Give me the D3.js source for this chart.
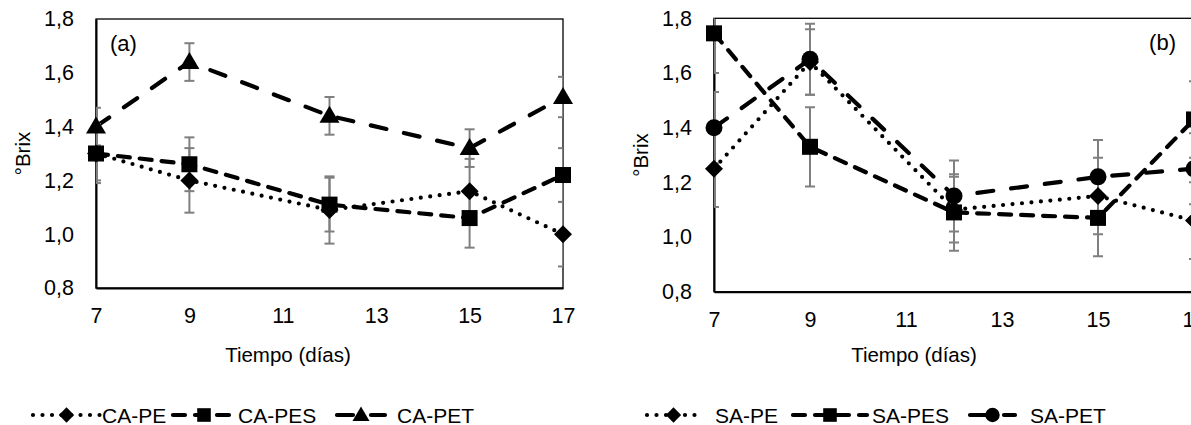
<!DOCTYPE html>
<html lang="es">
<head>
<meta charset="UTF-8">
<script src="https://d3js.org/d3.v7.min.js"></script>
<title>°Brix</title>
<style>
    body { margin: 0; background: #fff; }
    svg { display: block; font-family: "Liberation Sans", Arial, sans-serif; }
    .tick text { font-size: 21.5px; fill: #000; }
</style>
</head>
<body>
<svg id="chart" width="1191" height="425"></svg>
<script>
    // data
    const days = [7, 9, 12, 15, 17];
    const xTicks = [7, 9, 11, 13, 15, 17];
    const yTicks = [0.8, 1.0, 1.2, 1.4, 1.6, 1.8];

    const caPE = [1.30, 1.20, 1.09, 1.16, 1.00];
    const caPEerr = [0.11, 0.12, 0.125, 0.12, 0.12];
    const caPES = [1.30, 1.26, 1.11, 1.06, 1.22];
    const caPESerr = [0.10, 0.10, 0.10, 0.11, 0.10];
    const caPET = [1.40, 1.64, 1.44, 1.32, 1.51];
    const caPETerr = [0.07, 0.07, 0.07, 0.07, 0.075];

    const saPE = [1.25, 1.64, 1.10, 1.15, 1.06];
    const saPEerr = [0.14, 0.12, 0.12, 0.14, 0.14];
    const saPES = [1.745, 1.33, 1.09, 1.07, 1.43];
    const saPESerr = [0.145, 0.145, 0.14, 0.14, 0.14];
    const saPET = [1.40, 1.65, 1.15, 1.22, 1.25];
    const saPETerr = [0.13, 0.13, 0.13, 0.135, 0.13];

    const locale = d3.formatLocale({decimal: ",", thousands: ".", grouping: [3], currency: ["", ""]});
    const fmt = locale.format(".1f");

    // dash patterns per series kind
    const dashPE = "0,9.5";
    const dashPES = "12,10";
    const dashPET = "16,18";

    const svg = d3.select("#chart");

    const drawMarker = (g, type, x, y, k = 1) => {
        if (type === "square") {
            g.append("rect").attr("x", x - 8 * k).attr("y", y - 8 * k).attr("width", 16 * k).attr("height", 16 * k).attr("fill", "#000");
        } else if (type === "diamond") {
            g.append("path").attr("d", `M${x},${y - 9 * k}L${x + 9 * k},${y}L${x},${y + 9 * k}L${x - 9 * k},${y}Z`).attr("fill", "#000");
        } else if (type === "triangle") {
            g.append("path").attr("d", `M${x},${y - 10 * k}L${x + 10 * k},${y + 7 * k}L${x - 10 * k},${y + 7 * k}Z`).attr("fill", "#000");
        } else if (type === "circle") {
            g.append("circle").attr("cx", x).attr("cy", y).attr("r", 8.5 * k).attr("fill", "#000");
        }
    };

    const drawPanel = (opts) => {
        const x = d3.scaleLinear().domain([7, 17]).range([opts.left, opts.right]);
        const y = d3.scaleLinear().domain([0.8, 1.8]).range([opts.bottom, opts.top]);
        const g = svg.append("g");

        const clipId = "clip-" + opts.id;
        g.append("clipPath").attr("id", clipId)
            .append("rect")
            .attr("x", opts.left).attr("y", opts.top)
            .attr("width", opts.right - opts.left).attr("height", opts.bottom - opts.top);

        // plot border
        g.append("rect")
            .attr("x", opts.left).attr("y", opts.top)
            .attr("width", opts.right - opts.left).attr("height", opts.bottom - opts.top)
            .attr("fill", "none").attr("stroke", "#000").attr("stroke-width", 1.3);

        // axes
        g.append("g").attr("transform", `translate(${opts.left},0)`)
            .call(d3.axisLeft(y).tickValues(yTicks).tickFormat(fmt).tickSize(0).tickPadding(22))
            .call(a => a.select(".domain").attr("stroke-width", 2));
        g.append("g").attr("transform", `translate(0,${opts.bottom})`)
            .call(d3.axisBottom(x).tickValues(xTicks).tickFormat(d3.format("d")).tickSize(0).tickPadding(20))
            .call(a => a.select(".domain").attr("stroke-width", 2));
        g.selectAll(".tick text").style("font-family", "Liberation Sans, Arial, sans-serif");

        const line = d3.line().x(d => x(d[0])).y(d => y(d[1]));

        opts.series.forEach(s => {
            const pts = days.map((d, i) => [d, s.values[i]]);
            g.append("path")
                .attr("d", line(pts))
                .attr("fill", "none").attr("stroke", "#000")
                .attr("stroke-width", 4.2)
                .attr("stroke-linecap", "round").attr("stroke-linejoin", "round")
                .attr("stroke-dasharray", s.dash);
        });

        // error bars
        const eb = g.append("g").attr("clip-path", `url(#${clipId})`)
            .attr("stroke", "#7f7f7f").attr("stroke-width", 2);
        opts.series.forEach(s => {
            days.forEach((d, i) => {
                const cx = x(d), hi = y(s.values[i] + s.err[i]), lo = y(s.values[i] - s.err[i]);
                eb.append("line").attr("x1", cx).attr("x2", cx).attr("y1", hi).attr("y2", lo);
                eb.append("line").attr("x1", cx - 5).attr("x2", cx + 5).attr("y1", hi).attr("y2", hi);
                eb.append("line").attr("x1", cx - 5).attr("x2", cx + 5).attr("y1", lo).attr("y2", lo);
            });
        });

        opts.series.forEach(s => {
            days.forEach((d, i) => drawMarker(g, s.marker, x(d), y(s.values[i])));
        });

        // panel tag
        g.append("text").attr("x", opts.tagX).attr("y", opts.top + 24)
            .attr("text-anchor", opts.tagAnchor)
            .attr("dominant-baseline", "central")
            .style("font-size", "22px").text(opts.tag);

        // axis titles
        g.append("text")
            .attr("transform", `translate(${opts.yTitleX},${(opts.top + opts.bottom) / 2}) rotate(-90)`)
            .attr("text-anchor", "middle")
            .style("font-size", "20.5px").text("°Brix");
        g.append("text").attr("x", opts.xTitleX).attr("y", 362)
            .attr("text-anchor", "middle")
            .style("font-size", "20.5px").text("Tiempo (días)");

        // legend
        const ly = 415;
        opts.series.forEach((s, i) => {
            const L = opts.legend[i];
            g.append("line").attr("x1", L[0]).attr("x2", L[1]).attr("y1", ly).attr("y2", ly)
                .attr("stroke", "#000").attr("stroke-width", 4.2)
                .attr("stroke-linecap", "round").attr("stroke-dasharray", s.dash);
            drawMarker(g, s.marker, (L[0] + L[1]) / 2, ly, 0.85);
            g.append("text").attr("x", L[2]).attr("y", ly)
                .attr("dominant-baseline", "central")
                .style("font-size", "21px").text(s.name);
        });
    };

    drawPanel({
        id: "a", left: 96, right: 563, top: 19, bottom: 288,
        tag: "(a)", tagX: 110, tagAnchor: "start",
        yTitleX: 30, xTitleX: 288,
        legend: [[33, 100, 102], [173, 235, 238], [337, 385, 397]],
        series: [
            {name: "CA-PE", values: caPE, err: caPEerr, dash: dashPE, marker: "diamond"},
            {name: "CA-PES", values: caPES, err: caPESerr, dash: dashPES, marker: "square"},
            {name: "CA-PET", values: caPET, err: caPETerr, dash: dashPET, marker: "triangle"}
        ]
    });

    drawPanel({
        id: "b", left: 714, right: 1194, top: 18.3, bottom: 291.7,
        tag: "(b)", tagX: 1176, tagAnchor: "end",
        yTitleX: 648, xTitleX: 914,
        legend: [[647, 700, 715], [793, 867, 872], [970, 1015, 1030]],
        series: [
            {name: "SA-PE", values: saPE, err: saPEerr, dash: dashPE, marker: "diamond"},
            {name: "SA-PES", values: saPES, err: saPESerr, dash: dashPES, marker: "square"},
            {name: "SA-PET", values: saPET, err: saPETerr, dash: dashPET, marker: "circle"}
        ]
    });
</script>
</body>
</html>
